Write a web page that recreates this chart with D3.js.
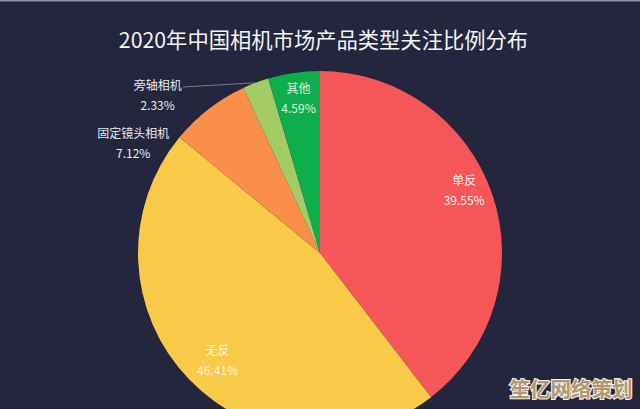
<!DOCTYPE html>
<html>
<head>
<meta charset="utf-8">
<script src="https://cdn.jsdelivr.net/npm/d3@7"></script>
<style>
html, body { margin: 0; padding: 0; background: #23263d; }
svg { display: block; }
text { font-family: "Noto Sans CJK SC", "Noto Sans", sans-serif; }
</style>
</head>
<body>
<svg id="chart" width="640" height="409"></svg>
<script>
// data
var names = ["单反", "无反", "固定镜头相机", "旁轴相机", "其他"];
var shares = [39.55, 46.41, 7.12, 2.33, 4.59];
var sliceColors = ["#f55657", "#f9c948", "#fb8f49", "#a3cb66", "#0fae4d"];
var titleText = "2020年中国相机市场产品类型关注比例分布";
var watermark = "笙亿网络策划";

var width = 640, height = 409;
var cx = 320, cy = 253, radius = 182;

var svg = d3.select("#chart");

svg.append("rect").attr("width", width).attr("height", height).attr("fill", "#23263d");
svg.append("rect").attr("width", width).attr("height", 1.5).attr("fill", "#8f92a0");

svg.append("text")
    .attr("x", 323.5)
    .attr("y", 48)
    .attr("text-anchor", "middle")
    .attr("font-size", 21.3)
    .attr("fill", "#f2f3f5")
    .text(titleText);

var pie = d3.pie().sort(null).value(d => d);
var arc = d3.arc().innerRadius(0).outerRadius(radius);
var labelArc = d3.arc().innerRadius(radius * 0.86).outerRadius(radius * 0.86);
var arcs = pie(shares);

var g = svg.append("g").attr("transform", "translate(" + cx + "," + cy + ")");

g.selectAll("path")
    .data(arcs)
    .enter()
    .append("path")
    .attr("d", arc)
    .attr("fill", (d, i) => sliceColors[i]);

// labels: inside for the big ones, outside for the small ones
function labelPos(d, i) {
    var c = labelArc.centroid(d);
    if (i == 0) return [c[0] - 4, c[1] - 12];
    if (i == 1) return [c[0] + 10, c[1] - 1];
    if (i == 2) return [c[0] - 91, c[1] + 15];
    if (i == 3) return [c[0] - 107, c[1] - 11];
    return [c[0] + 1, c[1] + 1];
}

var labelColors = ["#fdf0ee", "#fdf3d6", "#e9eaee", "#e9eaee", "#d8f3e0"];

var labels = g.selectAll("g.label")
    .data(arcs)
    .enter()
    .append("g")
    .attr("class", "label")
    .attr("transform", (d, i) => "translate(" + labelPos(d, i) + ")");

labels.append("text")
    .attr("text-anchor", "middle")
    .attr("y", -6)
    .attr("font-size", 12)
    .attr("fill", (d, i) => labelColors[i])
    .text((d, i) => names[i]);

labels.append("text")
    .attr("text-anchor", "middle")
    .attr("y", 14)
    .attr("font-size", 12)
    .attr("fill", (d, i) => labelColors[i])
    .text(d => d.data.toFixed(2) + "%");

// leader line for the 旁轴相机 label
var leaderEnd = d3.arc().innerRadius(radius).outerRadius(radius).centroid(arcs[3]);
g.append("line")
    .attr("x1", -137)
    .attr("y1", -166)
    .attr("x2", leaderEnd[0])
    .attr("y2", leaderEnd[1])
    .attr("stroke", "#8b8e9c")
    .attr("stroke-width", 0.8);

svg.append("text")
    .attr("x", 571)
    .attr("y", 397)
    .attr("text-anchor", "middle")
    .attr("font-size", 20.5)
    .attr("font-weight", 700)
    .attr("fill", "#ad9a74")
    .attr("stroke", "#f4f0e6")
    .attr("stroke-width", 2.2)
    .attr("paint-order", "stroke")
    .text(watermark);
</script>
</body>
</html>
